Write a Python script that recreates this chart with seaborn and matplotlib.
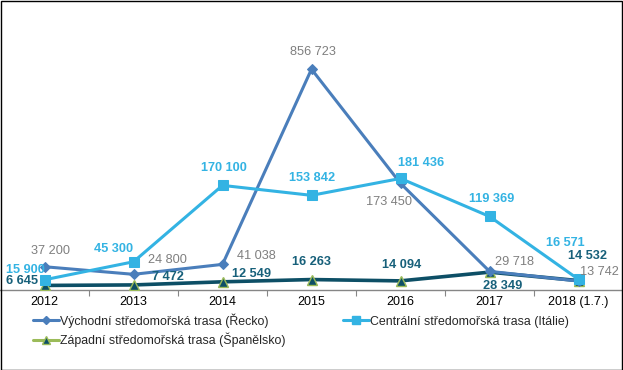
import matplotlib
matplotlib.use("Agg")
import matplotlib.pyplot as plt
import seaborn as sns
import pandas as pd
from matplotlib.lines import Line2D
from matplotlib.patches import Rectangle

# ---- data ----
years = ["2012", "2013", "2014", "2015", "2016", "2017", "2018 (1.7.)"]
greece = [37200, 24800, 41038, 856723, 173450, 29718, 13742]
# the source chart draws the 2015 peak at about 360 000 on its value scale
greece_drawn = [37200, 24800, 41038, 360000, 173450, 29718, 13742]
italy = [15900, 45300, 170100, 153842, 181436, 119369, 16571]
spain = [6645, 7472, 12549, 16263, 14094, 28349, 14532]
names = ["Východní středomořská trasa (Řecko)",
         "Centrální středomořská trasa (Itálie)",
         "Západní středomořská trasa (Španělsko)"]

sns.set_theme(style="white")
plt.rcParams['font.family'] = ['Liberation Sans', 'DejaVu Sans']

W, H = 623, 370
fig = plt.figure(figsize=(W / 100, H / 100), dpi=100)
zero_px, top_px = 289.5, 10
ax = fig.add_axes([0, 1 - zero_px / H, 1, (zero_px - top_px) / H])
scale = 0.000612  # px per unit
ax.set_xlim(-0.5, len(years) - 0.5)
ax.set_ylim(0, (zero_px - top_px) / scale)

c_gr = "#4A7EBB"
c_it = "#33B3E3"
c_sp = "#0D4F66"
c_green = "#9BBB59"
c_gray = "#7F7F7F"
c_sp_lab = "#17607A"

x = list(range(len(years)))
df = pd.DataFrame({"x": x, "gr": greece_drawn, "it": italy, "sp": spain})

sns.lineplot(data=df, x="x", y="sp", ax=ax, color=c_sp, linewidth=2.6,
             marker="^", markersize=7.5, markerfacecolor=c_sp,
             markeredgecolor=c_green, markeredgewidth=1.0, zorder=3)
sns.lineplot(data=df, x="x", y="gr", ax=ax, color=c_gr, linewidth=2.2,
             marker="D", markersize=5, markerfacecolor=c_gr,
             markeredgecolor=c_gr, zorder=4)
sns.lineplot(data=df, x="x", y="it", ax=ax, color=c_it, linewidth=2.2,
             marker="s", markersize=7, markerfacecolor=c_it,
             markeredgecolor=c_it, zorder=5)

def fmt(v):
    return f"{v:,}".replace(",", " ")

k = 72 / 100  # px -> points
gr_off = [(6, 16), (34, 14), (34, 8), (1, 17), (-12, -19), (25, 9), (21, 9)]
it_off = [(-19, 10), (-20, 13), (1, 17), (1, 17), (21, 15), (2, 17), (-13, 36)]
sp_off = [(-22, 4), (34, 8), (29, 8), (0, 18), (1, 16), (13, -14), (9, 25)]

lab_fs = 9.2
for i in x:
    ax.annotate(fmt(greece[i]), (i, greece_drawn[i]),
                xytext=(gr_off[i][0] * k, gr_off[i][1] * k), textcoords="offset points",
                ha="center", va="center", fontsize=lab_fs, color=c_gray, zorder=6)
    ax.annotate(fmt(italy[i]), (i, italy[i]),
                xytext=(it_off[i][0] * k, it_off[i][1] * k), textcoords="offset points",
                ha="center", va="center", fontsize=lab_fs, color=c_it,
                fontweight="bold", zorder=6)
    ax.annotate(fmt(spain[i]), (i, spain[i]),
                xytext=(sp_off[i][0] * k, sp_off[i][1] * k), textcoords="offset points",
                ha="center", va="center", fontsize=lab_fs, color=c_sp_lab,
                fontweight="bold", zorder=6)

for s in ["top", "left", "right"]:
    ax.spines[s].set_visible(False)
ax.spines["bottom"].set_color("#868686")
ax.spines["bottom"].set_linewidth(1.0)
ax.set_yticks([])
ax.set_xticks(x)
ax.set_xticklabels(years)
ax.set_xticks([i + 0.5 for i in x[:-1]], minor=True)
ax.tick_params(axis="x", which="major", length=0, pad=5, labelsize=9, labelcolor="black")
ax.tick_params(axis="x", which="minor", length=4, width=0.8, color="#868686", direction="out",
               bottom=True)
ax.set_xlabel("")
ax.set_ylabel("")
ax.grid(False)

handles = [
    Line2D([], [], color=c_gr, linewidth=2.2, marker="D", markersize=4,
           markerfacecolor=c_gr, markeredgecolor=c_gr),
    Line2D([], [], color=c_green, linewidth=2.2, marker="^", markersize=6,
           markerfacecolor=c_sp, markeredgecolor=c_green),
    Line2D([], [], color=c_it, linewidth=2.2, marker="s", markersize=6,
           markerfacecolor=c_it, markeredgecolor=c_it),
]
labels = [names[0], names[2], names[1]]
fig.legend(handles, labels, ncol=2, loc="upper left",
           bbox_to_anchor=(33 / W, 1 - 313 / H), frameon=False,
           fontsize=8.9, handlelength=2.1, handletextpad=0.1,
           columnspacing=4.6, labelspacing=0.4, borderaxespad=0, borderpad=0)

fig.patches.append(Rectangle((0.5 / W, 0.5 / H), 1 - 1.5 / W, 1 - 1.5 / H,
                             transform=fig.transFigure, fill=False,
                             edgecolor="black", linewidth=1.0))

fig.savefig("out.png", dpi=100)
